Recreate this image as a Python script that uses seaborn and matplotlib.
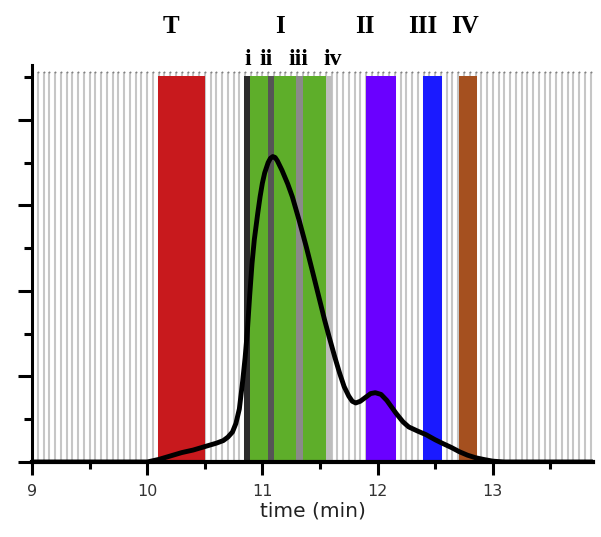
import numpy as np
import pandas as pd
import matplotlib.pyplot as plt
import seaborn as sns

# chromatogram trace (time in min, signal)
time = [9.0, 10.0, 10.1, 10.2, 10.3, 10.4, 10.5, 10.6, 10.66, 10.7, 10.74, 10.77, 10.8,
        10.83, 10.85, 10.87, 10.89, 10.91, 10.93, 10.96, 10.98, 11.0, 11.02, 11.05,
        11.07, 11.09, 11.11, 11.13, 11.17, 11.22, 11.26, 11.32, 11.38, 11.44, 11.49,
        11.54, 11.58, 11.63, 11.67, 11.71, 11.75, 11.78, 11.81, 11.85, 11.9, 11.94,
        11.98, 12.03, 12.08, 12.16, 12.22, 12.27, 12.35, 12.42, 12.5, 12.56, 12.64,
        12.71, 12.78, 12.85, 12.92, 13.0, 13.1, 13.87]
signal = [0, 0, 0.03, 0.07, 0.11, 0.14, 0.18, 0.22, 0.25, 0.29, 0.35, 0.45, 0.62,
          0.96, 1.22, 1.54, 1.95, 2.32, 2.6, 2.91, 3.1, 3.26, 3.38, 3.5,
          3.55, 3.57, 3.56, 3.52, 3.41, 3.25, 3.10, 2.82, 2.52, 2.2, 1.93,
          1.66, 1.46, 1.22, 1.04, 0.88, 0.77, 0.71, 0.69, 0.71, 0.76, 0.8,
          0.81, 0.79, 0.72, 0.57, 0.47, 0.41, 0.36, 0.32, 0.26, 0.22, 0.17,
          0.12, 0.08, 0.05, 0.03, 0.01, 0, 0]

# collected fractions (shaded bands)
band_start = [10.09, 10.84, 10.89, 11.05, 11.10, 11.29, 11.35, 11.55, 11.90, 12.39, 12.71]
band_end = [10.50, 10.89, 11.05, 11.10, 11.29, 11.35, 11.55, 11.60, 12.16, 12.56, 12.86]
band_colors = ['#c8191d', '#2b2b2b', '#5eae2a', '#555555', '#5eae2a', '#8a8a8a',
               '#5eae2a', '#bdbdbd', '#6a00ff', '#1a1aff', '#a5501f']

peak_labels = ['T', 'I', 'II', 'III', 'IV']
peak_x = [10.21, 11.15, 11.89, 12.39, 12.76]
sub_labels = ['i', 'ii', 'iii', 'iv']
sub_x = [10.87, 11.03, 11.31, 11.61]

# fraction collector marks every 0.05 min
fractions = np.arange(9.05, 13.86, 0.05)

df = pd.DataFrame({'time': time, 'signal': signal})

sns.set_style('ticks', {'axes.edgecolor': 'black', 'xtick.color': 'black',
                        'ytick.color': 'black', 'text.color': 'black'})
fig = plt.figure(figsize=(6.01, 5.37), dpi=100)
ax = fig.add_axes([32 / 601, 75 / 537, 561 / 601, 397 / 537])

ax.vlines(fractions, 0, 4.56, color='#c6c6c6', lw=1.5, zorder=1)
ax.scatter(fractions, [4.56] * len(fractions), s=2, color='#808080', zorder=1, linewidths=0)

widths = np.array(band_end) - np.array(band_start)
ax.bar(band_start, [4.51] * len(band_start), width=widths,
       align='edge', color=band_colors, linewidth=0, zorder=2)

sns.lineplot(data=df, x='time', y='signal', color='black', lw=3.5, ax=ax, zorder=3,
             solid_joinstyle='round', solid_capstyle='round')

for lab, x in zip(peak_labels, peak_x):
    ax.text(x, 5.09, lab, ha='center', va='center', fontsize=18, fontweight='bold',
            family='Liberation Serif', color='black', clip_on=False)
for lab, x in zip(sub_labels, sub_x):
    ax.text(x, 4.70, lab, ha='center', va='center', fontsize=17, fontweight='bold',
            family='Liberation Serif', color='black', clip_on=False)

ax.set_xlim(9, 13.87)
ax.set_ylim(0, 4.64)
ax.set_xticks([9, 10, 11, 12, 13])
ax.set_xticks([9.5, 10.5, 11.5, 12.5, 13.5], minor=True)
ax.set_yticks([0, 1, 2, 3, 4])
ax.set_yticks([0.5, 1.5, 2.5, 3.5, 4.5], minor=True)
ax.set_yticklabels([])
ax.tick_params(axis='x', which='major', length=9.5, width=2.2, pad=6,
               labelsize=11.5, labelcolor='#333333')
ax.tick_params(axis='x', which='minor', length=5, width=2.2)
ax.tick_params(axis='y', which='major', length=10, width=2.2)
ax.tick_params(axis='y', which='minor', length=5.5, width=2.2)
ax.set_xlabel('time (min)', fontsize=14.5, color='#222222', labelpad=2)
ax.set_ylabel('')

sns.despine(ax=ax)
ax.spines['left'].set_linewidth(2.2)
ax.spines['bottom'].set_linewidth(3)
ax.spines['left'].set_zorder(4)
ax.spines['bottom'].set_zorder(4)

fig.savefig('out.png', dpi=100)
